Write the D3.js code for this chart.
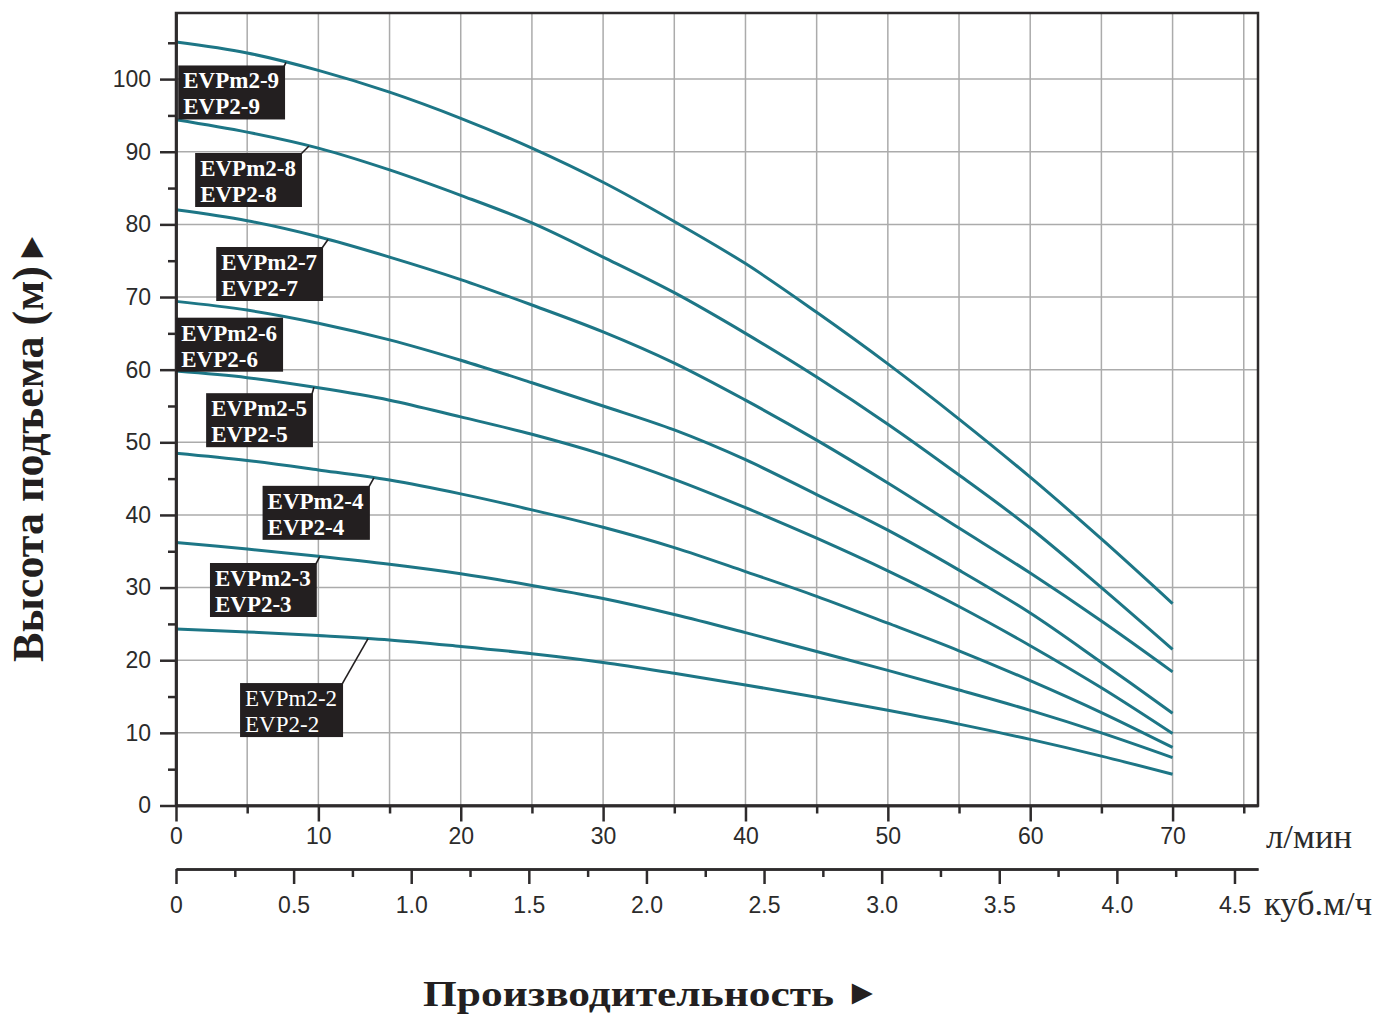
<!DOCTYPE html>
<html><head><meta charset="utf-8">
<script src="https://cdn.jsdelivr.net/npm/d3@7"></script>
<style>body{margin:0;background:#fff}svg{display:block}</style>
</head><body>
<svg id="chart" width="1378" height="1014"></svg>
<script>
// ---- data ----
const flowLpm = [0,5,10,15,20,25,30,35,40,45,50,55,60,65,70];
const headEVP2_2 = [24.3,23.9,23.4,22.8,21.9,20.9,19.7,18.2,16.6,14.9,13.1,11.2,9.1,6.8,4.3];
const headEVP2_3 = [36.2,35.3,34.3,33.2,31.9,30.3,28.5,26.3,23.8,21.2,18.6,15.9,13.1,10.0,6.6];
const headEVP2_4 = [48.5,47.5,46.2,44.8,42.9,40.7,38.3,35.5,32.2,28.8,25.1,21.3,17.2,12.8,8.0];
const headEVP2_5 = [59.8,58.9,57.5,55.8,53.5,51.1,48.3,44.9,41.0,36.8,32.3,27.4,22.0,16.2,9.9];
const headEVP2_6 = [69.4,68.2,66.4,64.1,61.3,58.2,55.0,51.7,47.6,42.8,37.9,32.4,26.5,19.7,12.7];
const headEVP2_7 = [82.0,80.5,78.3,75.5,72.4,68.9,65.2,60.9,55.8,50.3,44.4,38.2,32.0,25.4,18.4];
const headEVP2_8 = [94.4,92.7,90.5,87.5,84.0,80.2,75.5,70.6,65.0,59.0,52.5,45.5,38.2,30.0,21.5];
const headEVP2_9 = [105.1,103.6,101.2,98.2,94.6,90.5,85.8,80.4,74.6,67.9,60.8,53.2,45.2,36.7,27.8];
const modelNamesM = ["EVPm2-2","EVPm2-3","EVPm2-4","EVPm2-5","EVPm2-6","EVPm2-7","EVPm2-8","EVPm2-9"];
const modelNames  = ["EVP2-2","EVP2-3","EVP2-4","EVP2-5","EVP2-6","EVP2-7","EVP2-8","EVP2-9"];
const headTicks = [0,10,20,30,40,50,60,70,80,90,100];
const lpmTicks = [0,10,20,30,40,50,60,70];
const m3hTicks = [0,0.5,1.0,1.5,2.0,2.5,3.0,3.5,4.0,4.5];
const yTitle = "Высота подъема (м)";
const xTitle = "Производительность";
const lpmUnit = "л/мин";
const m3hUnit = "куб.м/ч";

const heads = [headEVP2_2,headEVP2_3,headEVP2_4,headEVP2_5,headEVP2_6,headEVP2_7,headEVP2_8,headEVP2_9];

// ---- layout (label placement: anchor flow on curve, box top-right offset in px) ----
const labelLayout = [
  {q:13.49, dx:-25, dy:44.5, leader:true},
  {q:10.1,  dx:-3,  dy:6.5,  leader:true},
  {q:13.9,  dx:-4,  dy:8,    leader:true},
  {q:9.69,  dx:-1,  dy:6,    leader:true},
  {q:7.52,  dx:0,   dy:1,    leader:false},
  {q:10.68, dx:-5,  dy:7.5,  leader:true},
  {q:9.34,  dx:-7,  dy:7,    leader:true},
  {q:7.73,  dx:-1,  dy:3,    leader:true}
];

const svg = d3.select("#chart");
const L = 176, R = 1258, T = 13, B = 805.5;
const x = d3.scaleLinear().domain([0,76]).range([L,R]);
const y = d3.scaleLinear().domain([0,109.1]).range([B,T]);
const x2 = d3.scaleLinear().domain([0,4.6]).range([L,R]);
const ink = "#2e2b2c";
const curveColor = "#1d7686";
const sans = "'Liberation Sans', Arial, sans-serif";
const serif = "'Liberation Serif', 'Times New Roman', serif";

// grid
const grid = svg.append("g").attr("stroke","#ababab").attr("stroke-width",1.5);
grid.selectAll(".gv").data(d3.range(5,76,5)).join("line")
  .attr("x1",d=>x(d)).attr("x2",d=>x(d)).attr("y1",y(0)).attr("y2",y(109.1));
grid.selectAll(".gh").data(d3.range(10,101,10)).join("line")
  .attr("y1",d=>y(d)).attr("y2",d=>y(d)).attr("x1",x(0)).attr("x2",x(76));

// curves
const line = d3.line().x(d=>x(d[0])).y(d=>y(d[1])).curve(d3.curveCatmullRom.alpha(0.5));
svg.append("g").selectAll("path").data(heads).join("path")
  .attr("d",h=>line(flowLpm.map((q,i)=>[q,h[i]])))
  .attr("fill","none").attr("stroke",curveColor).attr("stroke-width",3);

// frame
svg.append("rect").attr("x",x(0)).attr("y",y(109.1)).attr("width",x(76)-x(0)).attr("height",y(0)-y(109.1))
  .attr("fill","none").attr("stroke",ink).attr("stroke-width",2.5);

function styleAxis(g){
  g.select(".domain").attr("stroke",ink).attr("stroke-width",2.5);
  g.selectAll(".tick line").attr("stroke",ink).attr("stroke-width",2.5);
  g.selectAll("text").attr("fill","#2b2b2b").attr("font-family",sans).attr("font-size",23);
}
// y axis
const yMinor = svg.append("g").attr("transform",`translate(${L},0)`)
  .call(d3.axisLeft(y).tickValues(d3.range(5,106,10)).tickSize(8).tickSizeOuter(0).tickFormat(""));
styleAxis(yMinor);
const yAx = svg.append("g").attr("transform",`translate(${L},0)`)
  .call(d3.axisLeft(y).tickValues(headTicks).tickSize(16).tickSizeOuter(0).tickPadding(9));
styleAxis(yAx);

// x axis (l/min)
const xMinor = svg.append("g").attr("transform",`translate(0,${B})`)
  .call(d3.axisBottom(x).tickValues(d3.range(5,76,10)).tickSize(8).tickSizeOuter(0).tickFormat(""));
styleAxis(xMinor);
const xAx = svg.append("g").attr("transform",`translate(0,${B})`)
  .call(d3.axisBottom(x).tickValues(lpmTicks).tickSize(16).tickSizeOuter(0).tickPadding(6));
styleAxis(xAx);

// second x axis (m3/h)
const x2y = 869;
const x2Minor = svg.append("g").attr("transform",`translate(0,${x2y})`)
  .call(d3.axisBottom(x2).tickValues(d3.range(0.25,4.6,0.5)).tickSize(8).tickSizeOuter(0).tickFormat(""));
styleAxis(x2Minor);
const x2Ax = svg.append("g").attr("transform",`translate(0,${x2y})`)
  .call(d3.axisBottom(x2).tickValues(m3hTicks).tickSize(15).tickSizeOuter(0).tickPadding(13)
    .tickFormat(d=>d===0?"0":d3.format(".1f")(d)));
styleAxis(x2Ax);

// unit labels
svg.append("text").attr("x",1266).attr("y",848).attr("font-family",serif).attr("font-size",33)
  .attr("fill","#2b2b2b").attr("textLength",86).attr("lengthAdjust","spacingAndGlyphs").text(lpmUnit);
svg.append("text").attr("x",1264).attr("y",915).attr("font-family",serif).attr("font-size",33)
  .attr("fill","#2b2b2b").attr("textLength",108).attr("lengthAdjust","spacingAndGlyphs").text(m3hUnit);

// titles
const xt = svg.append("text").attr("y",1006).attr("font-family",serif).attr("font-weight","bold")
  .attr("font-size",36).attr("fill","#231f20");
xt.append("tspan").attr("x",423).attr("textLength",411).attr("lengthAdjust","spacingAndGlyphs").text(xTitle);
xt.append("tspan").attr("x",845).attr("y",1004).attr("font-size",35).text("\u25BA");

const yt = svg.append("g").attr("transform","translate(43,662) rotate(-90) scale(1,1.12)")
  .append("text").attr("x",0).attr("y",0).attr("font-family",serif).attr("font-weight","bold")
  .attr("font-size",40).attr("fill","#231f20");
yt.append("tspan").attr("x",0).attr("textLength",396).attr("lengthAdjust","spacingAndGlyphs").text(yTitle);
yt.append("tspan").attr("x",398).attr("font-size",34).text("\u25BA");

// labels
function headAt(h,q){
  const i = Math.min(flowLpm.length-2, Math.floor(q/5));
  const t = (q-flowLpm[i])/(flowLpm[i+1]-flowLpm[i]);
  return h[i]+(h[i+1]-h[i])*t;
}
const lab = svg.append("g");
heads.forEach((h,i)=>{
  const lay = labelLayout[i];
  const tx = x(lay.q), ty = y(headAt(h,lay.q));
  const trx = tx+lay.dx, tr_y = ty+lay.dy;
  const g = lab.append("g");
  const rect = g.append("rect").attr("fill","#231f20");
  const weight = i===0 ? "normal" : "bold";
  const t1 = g.append("text").attr("font-family",serif).attr("font-weight",weight).attr("font-size",23)
    .attr("fill","#fff").text(modelNamesM[i]);
  const t2 = g.append("text").attr("font-family",serif).attr("font-weight",weight).attr("font-size",23)
    .attr("fill","#fff").text(modelNames[i]);
  const w = t1.node().getBBox().width + 11;
  const left = trx - w;
  rect.attr("x",left).attr("y",tr_y).attr("width",w).attr("height",54);
  t1.attr("x",left+5).attr("y",tr_y+23);
  t2.attr("x",left+5).attr("y",tr_y+49);
  if(lay.leader){
    g.append("line").attr("x1",trx-1).attr("y1",tr_y+1).attr("x2",tx).attr("y2",ty)
      .attr("stroke","#231f20").attr("stroke-width",1.6);
  }
});
</script>
</body></html>
